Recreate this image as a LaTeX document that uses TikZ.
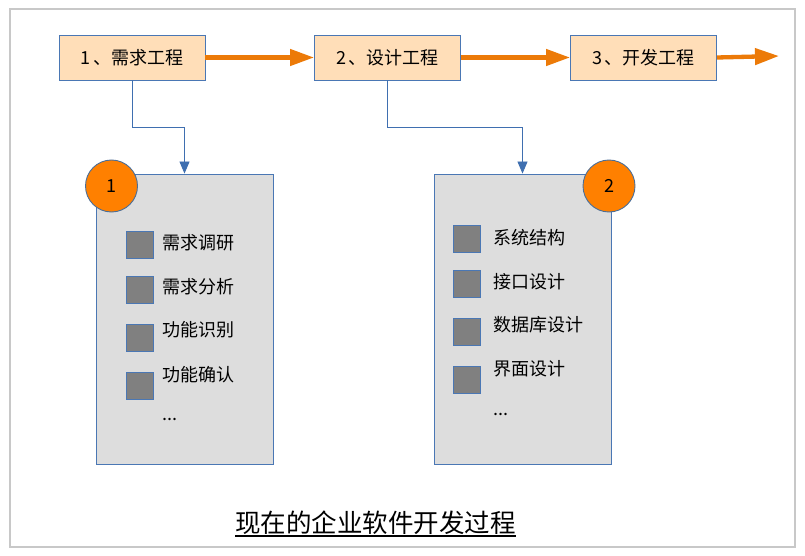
\documentclass[tikz,border=0pt]{standalone}
\usepackage{fontspec}
\setmainfont{Noto Sans CJK SC}
\usetikzlibrary{arrows.meta,calc}
\definecolor{peach}{HTML}{FFDEB8}
\definecolor{edgeblue}{HTML}{4A77B4}
\definecolor{connblue}{HTML}{3F6FB0}
\definecolor{panelgray}{HTML}{DDDDDD}
\definecolor{sqgray}{HTML}{808080}
\definecolor{orangeA}{HTML}{EC7A08}
\definecolor{orangeC}{HTML}{FF8000}
\definecolor{circedge}{HTML}{4A6E98}
\definecolor{framegray}{HTML}{C8C8C8}
\tikzset{
  stagebox/.style={draw=edgeblue, line width=0.9pt, fill=peach, minimum width=146pt, minimum height=45pt, inner sep=0pt, font=\fontsize{18}{20}\selectfont},
  panelbox/.style={draw=edgeblue, line width=0.9pt, fill=panelgray, minimum width=177pt, minimum height=290pt, inner sep=0pt},
  numcirc/.style={circle, draw=circedge, line width=0.9pt, fill=orangeC, minimum size=52pt, inner sep=0pt, font=\fontsize{18}{20}\selectfont},
  sq/.style={draw=edgeblue, line width=0.9pt, fill=sqgray, minimum size=27pt, inner sep=0pt},
  itemtxt/.style={anchor=base west, inner sep=0pt, font=\fontsize{18}{20}\selectfont},
  bigarrow/.style={draw=orangeA, line width=4.3pt, -{Triangle[length=24pt,width=16pt]}},
  conn/.style={draw=connblue, line width=0.9pt, -{Triangle[length=12pt,width=10pt]}}
}
\begin{document}
\begin{tikzpicture}[x=1pt,y=-1pt]
\useasboundingbox[fill=white] (0,0) rectangle (805,556);
\draw[framegray, line width=1.3pt] (10,9) rectangle (795,547);

% stage boxes
\node[stagebox] (b1) at (132,57.5) {1\hspace{3pt}、需求工程};
\node[stagebox] (b2) at (387.5,57.5) {2\hspace{3pt}、设计工程};
\node[stagebox] (b3) at (643.5,57.5) {3\hspace{3pt}、开发工程};
\coordinate (endp) at (779,56);

\draw[bigarrow] (b1.east) -- (b2.west);
\draw[bigarrow] (b2.east) -- (b3.west);
\draw[bigarrow] (b3.east) -- (endp);

% panels
\node[panelbox] (p1) at (184.5,319) {};
\node[panelbox] (p2) at (522.5,319) {};

\draw[conn] (b1.south) -- ++(0,47) -| (p1.north);
\draw[conn] (b2.south) -- ++(0,47) -| (p2.north);

\node[numcirc] (c1) at (111.5,186) {1};
\node[numcirc] (c2) at (609,186) {2};

% panel 1 items
\node[sq] (s11) at (139.5,244.5) {};
\node[sq] (s12) at (139.5,289.5) {};
\node[sq] (s13) at (139.5,338) {};
\node[sq] (s14) at (139.5,385.5) {};
\node[itemtxt] (t11) at (162,249.5) {需求调研};
\node[itemtxt] (t12) at (162,293.5) {需求分析};
\node[itemtxt] (t13) at (162,336.8) {功能识别};
\node[itemtxt] (t14) at (162,381.8) {功能确认};
\node[itemtxt] (t15) at (162,420) {...};

% panel 2 items
\node[sq] (s21) at (466.7,239) {};
\node[sq] (s22) at (466.7,283.5) {};
\node[sq] (s23) at (466.7,332) {};
\node[sq] (s24) at (466.7,380) {};
\node[itemtxt] (t21) at (493,244.8) {系统结构};
\node[itemtxt] (t22) at (493,288.5) {接口设计};
\node[itemtxt] (t23) at (493,331.8) {数据库设计};
\node[itemtxt] (t24) at (493,375.8) {界面设计};
\node[itemtxt] (t25) at (493,415) {...};

% title
\node[anchor=base, inner sep=0pt, font=\fontsize{25.5}{28}\selectfont] (title) at (375.5,532.5) {现在的企业软件开发过程};
\draw[black, line width=1.4pt] ([yshift=-3.5pt]title.base west) -- ([yshift=-3.5pt]title.base east);
\end{tikzpicture}
\end{document}
